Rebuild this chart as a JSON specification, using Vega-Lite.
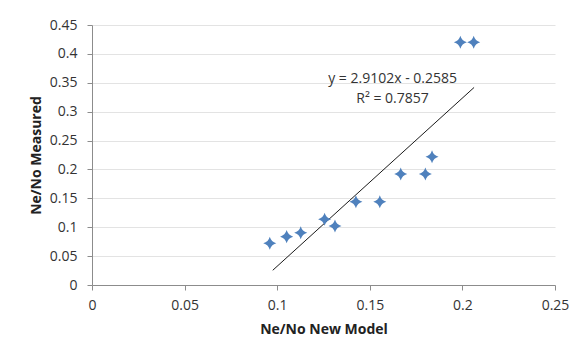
{
  "$schema": "https://vega.github.io/schema/vega-lite/v6.json",
  "width": 463,
  "height": 260,
  "autosize": "none",
  "padding": {"left": 92, "top": 25, "right": 29, "bottom": 75},
  "background": "white",
  "config": {
    "view": {"stroke": null},
    "font": "Open Sans",
    "axis": {
      "labelFont": "Open Sans",
      "labelFontSize": 14,
      "labelColor": "#333333",
      "labelOverlap": false,
      "labelFlush": false,
      "titleFont": "Open Sans",
      "titleFontSize": 14,
      "titleFontWeight": "bold",
      "titleColor": "#222222",
      "domainColor": "#8c8c8c",
      "tickColor": "#8c8c8c",
      "tickSize": 5,
      "gridColor": "#e3e3e3"
    }
  },
  "datasets": {
    "points": [
      {"model": 0.0960, "measured": 0.0721},
      {"model": 0.1051, "measured": 0.0837},
      {"model": 0.1127, "measured": 0.0906},
      {"model": 0.1256, "measured": 0.1137},
      {"model": 0.1312, "measured": 0.1021},
      {"model": 0.1425, "measured": 0.1442},
      {"model": 0.1554, "measured": 0.1442},
      {"model": 0.1667, "measured": 0.1921},
      {"model": 0.1800, "measured": 0.1921},
      {"model": 0.1836, "measured": 0.2221},
      {"model": 0.1989, "measured": 0.4200},
      {"model": 0.2061, "measured": 0.4200}
    ],
    "trend": [
      {"model": 0.0976, "measured": 0.0255},
      {"model": 0.2063, "measured": 0.3419}
    ],
    "labels": [
      {"model": 0.1623, "measured": 0.3565, "text": "y = 2.9102x - 0.2585"},
      {"model": 0.1623, "measured": 0.3219, "text": "R² = 0.7857"}
    ]
  },
  "encoding": {
    "x": {"field": "model", "type": "quantitative", "scale": {"domain": [0, 0.25], "nice": false},
      "axis": {"title": "Ne/No New Model", "values": [0, 0.05, 0.1, 0.15, 0.2, 0.25], "grid": false, "labelPadding": 8, "titlePadding": 10, "format": "~g"}},
    "y": {"field": "measured", "type": "quantitative", "scale": {"domain": [0, 0.45], "nice": false},
      "axis": {"title": "Ne/No Measured", "values": [0, 0.05, 0.1, 0.15, 0.2, 0.25, 0.3, 0.35, 0.4, 0.45], "grid": true, "labelPadding": 10, "titlePadding": 6, "format": "~g"}}
  },
  "layer": [
    {
      "data": {"name": "trend"},
      "mark": {"type": "line", "color": "#1a1a1a", "strokeWidth": 1}
    },
    {
      "data": {"name": "points"},
      "mark": {
        "type": "point",
        "filled": true,
        "color": "#4f81bd",
        "opacity": 1,
        "size": 170,
        "shape": "M0,-1 Q0.22,-0.22 1,0 Q0.22,0.22 0,1 Q-0.22,0.22 -1,0 Q-0.22,-0.22 0,-1 Z"
      }
    },
    {
      "data": {"name": "labels"},
      "mark": {"type": "text", "fontSize": 14, "font": "Open Sans", "color": "#333333", "align": "center", "baseline": "middle"},
      "encoding": {
        "text": {"field": "text"}
      }
    }
  ]
}
